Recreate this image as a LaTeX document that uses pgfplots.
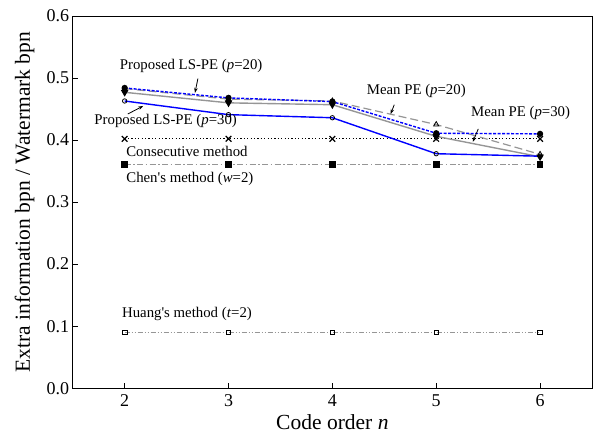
\documentclass[border=0pt]{standalone}
\usepackage{pgfplots}
\pgfplotsset{compat=1.18}
\usepackage{fontspec}
\setmainfont{Liberation Serif}
\usetikzlibrary{arrows.meta}
\definecolor{lgray}{RGB}{150,150,150}
\begin{document}
\begin{tikzpicture}
\begin{axis}[
  name=ax,
  scale only axis,
  width=519pt, height=372pt,
  xmin=1.5, xmax=6.5, ymin=0, ymax=0.6,
  xtick={2,3,4,5,6},
  xticklabels={2,3,4,5,6},
  ytick={0,0.1,0.2,0.3,0.4,0.5,0.6},
  yticklabels={0.0,0.1,0.2,0.3,0.4,0.5,0.6},
  tick pos=left,
  tick align=inside,
  major tick length=5pt,
  axis line style={line width=0.8pt},
  tick style={line width=0.8pt, black},
  ticklabel style={font=\rmfamily\fontsize{18}{20}\selectfont},
  xticklabel style={yshift=-3pt},
  xlabel={Code order \textit{n}},
  ylabel={Extra information bpn / Watermark bpn},
  every axis x label/.style={at={([yshift=-41pt]axis description cs:0.5,0)}, anchor=base, font=\rmfamily\fontsize{21.5}{23}\selectfont},
  every axis y label/.style={at={([xshift=-48pt]axis description cs:0,0.5)}, anchor=center, rotate=90, font=\rmfamily\fontsize{21.5}{23}\selectfont},
  mark size=2.3pt,
]
% Huang
\addplot[lgray, line width=0.8pt, dash pattern=on 5pt off 2pt on 1pt off 2pt on 1pt off 2pt,
  mark=square, mark size=2.3pt, mark options={solid, black, fill=white, line width=0.8pt}]
  coordinates {(2,0.09) (3,0.09) (4,0.09) (5,0.09) (6,0.09)};
% Chen
\addplot[lgray, line width=0.8pt, dash pattern=on 6pt off 2.5pt on 1.5pt off 2.5pt,
  mark=square*, mark size=2.8pt, mark options={solid, black, fill=black}]
  coordinates {(2,0.361) (3,0.361) (4,0.361) (5,0.361) (6,0.361)};
% Consecutive
\addplot[black, line width=0.9pt, dash pattern=on 1.2pt off 2.2pt,
  mark=x, mark size=4pt, mark options={solid, black, line width=1.2pt}]
  coordinates {(2,0.402) (3,0.402) (4,0.402) (5,0.402) (6,0.402)};
% Mean PE p=20
\addplot[lgray, line width=1.2pt, dash pattern=on 8pt off 4pt,
  mark=triangle, mark size=3pt, mark options={solid, black, fill=white, line width=0.8pt}]
  coordinates {(2,0.483) (3,0.466) (4,0.463) (5,0.425) (6,0.377)};
% Mean PE p=30
\addplot[lgray, line width=1.4pt,
  mark=triangle*, mark size=3pt, mark options={solid, black, fill=black, rotate=180}]
  coordinates {(2,0.477) (3,0.460) (4,0.457) (5,0.406) (6,0.373)};
% Proposed p=30
\addplot[blue, line width=1.4pt,
  mark=o, mark size=2.2pt, mark options={solid, black, fill=white, line width=0.8pt}]
  coordinates {(2,0.463) (3,0.441) (4,0.436) (5,0.378) (6,0.374)};
% Proposed p=20
\addplot[blue, line width=1.4pt, dash pattern=on 3pt off 1.5pt,
  mark=*, mark size=2.4pt, mark options={solid, black, fill=black}]
  coordinates {(2,0.484) (3,0.468) (4,0.462) (5,0.411) (6,0.410)};

\begin{scope}[font=\fontsize{14.8}{16}\selectfont]
\node at (axis cs:2.64,0.519) {Proposed LS-PE (\textit{p}=20)};
\node at (axis cs:2.395,0.4306) {Proposed LS-PE (\textit{p}=30)};
\node at (axis cs:2.6,0.381) {Consecutive method};
\node at (axis cs:2.628,0.3366) {Chen\textquotesingle s method (\textit{w}=2)};
\node at (axis cs:4.808,0.479) {Mean PE (\textit{p}=20)};
\node at (axis cs:5.813,0.443) {Mean PE (\textit{p}=30)};
\node at (axis cs:2.6,0.119) {Huang\textquotesingle s method (\textit{t}=2)};
\end{scope}
\draw[-{Stealth[length=5pt,width=3.5pt]}, line width=0.8pt] (axis cs:2.705,0.499) -- (axis cs:2.677,0.476);
\draw[-{Stealth[length=5pt,width=3.5pt]}, line width=0.8pt] (axis cs:2.03,0.442) -- (axis cs:2.179,0.455);
\draw[-{Stealth[length=5pt,width=3.5pt]}, line width=0.8pt] (axis cs:4.596,0.457) -- (axis cs:4.561,0.442);
\draw[-{Stealth[length=5pt,width=3.5pt]}, line width=0.8pt] (axis cs:5.405,0.418) -- (axis cs:5.352,0.397);
\end{axis}
\pgfresetboundingbox
\path ([shift={(-72.7pt,-46pt)}]ax.south west) rectangle ([shift={(2pt,16pt)}]ax.north east);
\end{tikzpicture}
\end{document}
